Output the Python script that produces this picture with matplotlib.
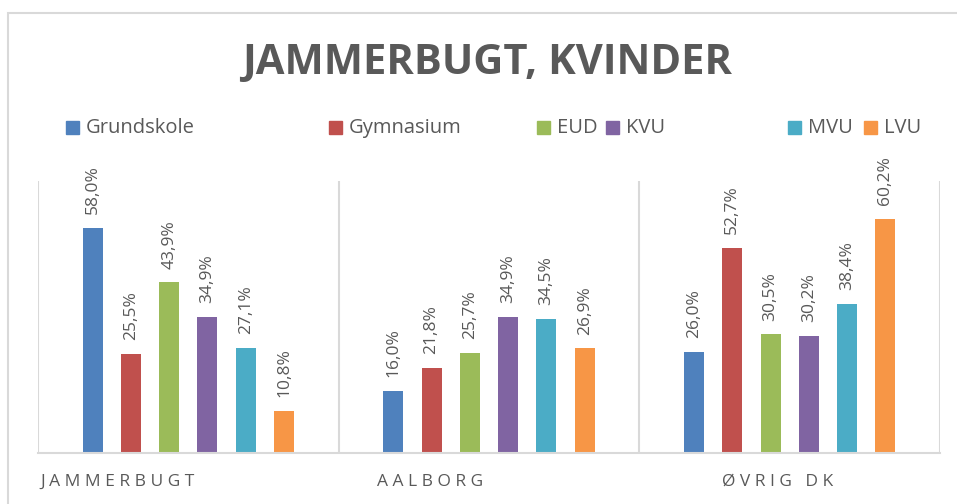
import matplotlib.pyplot as plt
from matplotlib.patches import Rectangle
import numpy as np

plt.rcParams['font.family'] = ['Open Sans', 'DejaVu Sans']

title = "JAMMERBUGT, KVINDER"
groups = ["JAMMERBUGT", "AALBORG", "ØVRIG DK"]
series = ["Grundskole", "Gymnasium", "EUD", "KVU", "MVU", "LVU"]
colors = ["#4F81BD", "#C0504D", "#9BBB59", "#8064A2", "#4BACC6", "#F79646"]

grundskole = [58.0, 16.0, 26.0]
gymnasium = [25.5, 21.8, 52.7]
eud = [43.9, 25.7, 30.5]
kvu = [34.9, 34.9, 30.2]
mvu = [27.1, 34.5, 38.4]
lvu = [10.8, 26.9, 60.2]
values = [grundskole, gymnasium, eud, kvu, mvu, lvu]

W, H = 957, 504
fig = plt.figure(figsize=(W / 100, H / 100), dpi=100)
ax = fig.add_axes([38 / W, 51 / H, 902 / W, 272 / H])

gray = "#595959"
line = "#D9D9D9"

x = np.arange(len(groups))
step = 0.1274
width = 0.0665
for i, (name, vals) in enumerate(zip(series, values)):
    pos = x + (i - 2.5) * step
    bars = ax.bar(pos, vals, width, color=colors[i], label=name)
    for b, v in zip(bars, vals):
        ax.annotate("{:.1f}%".format(v).replace(".", ","),
                    (b.get_x() + b.get_width() / 2, v),
                    xytext=(0, 10), textcoords="offset points",
                    rotation=90, ha="center", va="bottom",
                    fontsize=12.5, color=gray)

ax.set_xlim(-0.5, 2.5)
ax.set_ylim(0, 70)
for s in ["top", "right", "left"]:
    ax.spines[s].set_visible(False)
ax.spines["bottom"].set_color(line)
ax.spines["bottom"].set_linewidth(1.5)
for b in [-0.5, 0.5, 1.5, 2.5]:
    ax.axvline(b, color=line, lw=1.5, zorder=0)
ax.set_xticks([])
ax.set_yticks([])

# category labels, letter spaced
for g, px in zip(groups, [40, 377, 722]):
    fig.text(px / W, 1 - 482 / H, " ".join(g), ha="left", va="center",
             fontsize=12.5, color=gray)

# legend drawn by hand to keep the uneven spacing
for name, c, px in zip(series, colors, [66, 329, 537, 606, 788, 864]):
    fig.patches.append(Rectangle((px / W, 1 - 134 / H), 13 / W, 13 / H,
                                 transform=fig.transFigure, color=c))
    fig.text((px + 20) / W, 1 - 128 / H, name, ha="left", va="center",
             fontsize=14.5, color=gray)

fig.text(0.509, 1 - 63 / H, title, ha="center", va="center",
         fontsize=30, fontweight="bold", color=gray)

fig.patches.append(Rectangle((8 / W, -0.1), 1.2, 1.1 - 13 / H,
                             transform=fig.transFigure, fill=False,
                             edgecolor=line, lw=1.5))

fig.savefig("out.png", dpi=100)
